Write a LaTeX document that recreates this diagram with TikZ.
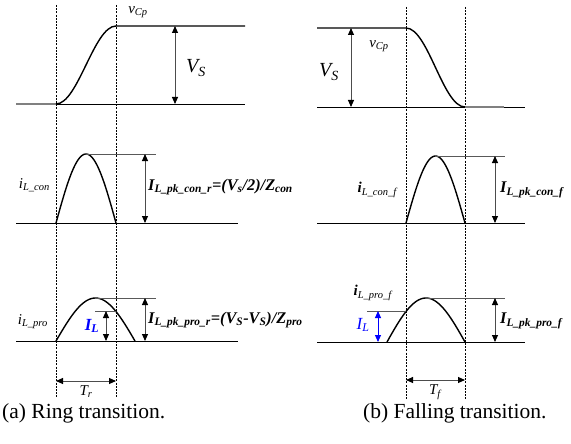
\documentclass[tikz,border=0pt]{standalone}
\usepackage{fontspec}
\setmainfont{Liberation Serif}
\usetikzlibrary{arrows.meta}
\begin{document}
\begin{tikzpicture}[x=1pt,y=-1pt,
  wave/.style={line width=1.4pt, black},
  baseln/.style={line width=0.9pt, black},
  flatseg/.style={line width=2pt, gray},
  refl/.style={line width=0.9pt, gray!70!black},
  vdot/.style={line width=1pt, black, dash pattern=on 2pt off 1.2pt},
  dimarr/.style={line width=0.9pt, gray!60!black,
     {Triangle[length=7pt,width=6pt,black]}-{Triangle[length=7pt,width=6pt,black]}},
  bluearr/.style={line width=0.9pt, blue,
     {Triangle[length=7pt,width=6pt,blue]}-{Triangle[length=7pt,width=6pt,blue]}},
  lbl/.style={inner sep=0pt, font=\fontsize{15}{15}\selectfont\itshape},
  biglbl/.style={inner sep=0pt, font=\fontsize{16.3}{17}\selectfont\bfseries\itshape},
  caplbl/.style={inner sep=0pt, font=\fontsize{21.5}{22}\selectfont}
]
\useasboundingbox (0,0) rectangle (571,444);

% ---------- left column (a) ----------
\coordinate (la1) at (56,5);  \coordinate (la2) at (56,398);
\coordinate (lb1) at (116,5); \coordinate (lb2) at (116,398);
\draw[vdot] (la1) -- (la2);
\draw[vdot] (lb1) -- (lb2);

% top: v_Cp rising
\draw[baseln] (16,104) -- (245,104);
\draw[flatseg] (16,104) -- (56,104);
\draw[wave] (56,104) .. controls (78,104) and (94,26) .. (116,26) -- (245,26);
\coordinate (vsa1) at (175,26); \coordinate (vsa2) at (175,104);
\draw[dimarr] (vsa1) -- (vsa2);
\node[lbl] (vcpa) at (138,12) {v\textsubscript{Cp}};
\node[inner sep=0pt, font=\fontsize{20}{20}\selectfont\itshape] (vsa) at (196,68) {V\textsubscript{S}};

% middle: i_L_con
\draw[baseln] (16,223) -- (238,223);
\draw[wave] plot[domain=0:180,samples=50] ({56+60*\x/180},{223-69*sin(\x)});
\draw[refl] (86,154) -- (156,154);
\coordinate (ica1) at (145,154); \coordinate (ica2) at (145,223);
\draw[dimarr] (ica1) -- (ica2);
\node[lbl, anchor=east] (ilcon) at (50,185) {i\textsubscript{L\_con}};
\node[biglbl, anchor=west] (ipkcon) at (148,187) {I\textsubscript{L\_pk\_con\_r}=(V\textsubscript{s}/2)/Z\textsubscript{con}};

% bottom: i_L_pro
\draw[baseln] (16,341) -- (238,341);
\draw[wave] plot[domain=0:180,samples=50] ({56+79*\x/180},{341-43*sin(\x)});
\draw[refl] (96,298) -- (156,298);
\draw[refl] (95,311) -- (116,311);
\coordinate (ila1) at (106,311); \coordinate (ila2) at (106,341);
\draw[dimarr] (ila1) -- (ila2);
\coordinate (ipa1) at (145,298); \coordinate (ipa2) at (145,341);
\draw[dimarr] (ipa1) -- (ipa2);
\node[lbl, anchor=east] (ilpro) at (48,322) {i\textsubscript{L\_pro}};
\node[inner sep=0pt, font=\fontsize{17}{17}\selectfont\bfseries\itshape, text=blue] (ila) at (92,326) {I\textsubscript{L}};
\node[biglbl, anchor=west] (ipkpro) at (148,320) {I\textsubscript{L\_pk\_pro\_r}=(V\textsubscript{S}-V\textsubscript{S})/Z\textsubscript{pro}};

% T_r
\coordinate (tr1) at (56,381); \coordinate (tr2) at (116,381);
\draw[dimarr] (tr1) -- (tr2);
\node[lbl] (trl) at (86,392) {T\textsubscript{r}};

\node[caplbl, anchor=west] (capa) at (2,413) {(a) Ring transition.};

% ---------- right column (b) ----------
\coordinate (ra1) at (406,7);  \coordinate (ra2) at (406,400);
\coordinate (rb1) at (465,7);  \coordinate (rb2) at (465,400);
\draw[vdot] (ra1) -- (ra2);
\draw[vdot] (rb1) -- (rb2);

% top: v_Cp falling
\draw[baseln] (317,107) -- (525,107);
\draw[flatseg] (465,107) -- (504,107);
\draw[wave] (317,28) -- (406,28) .. controls (428,28) and (443,107) .. (465,107);
\coordinate (vsb1) at (351,28); \coordinate (vsb2) at (351,107);
\draw[dimarr] (vsb1) -- (vsb2);
\node[lbl] (vcpb) at (379,46) {v\textsubscript{Cp}};
\node[inner sep=0pt, font=\fontsize{20}{20}\selectfont\itshape] (vsb) at (329,72) {V\textsubscript{S}};

% middle
\draw[baseln] (317,223) -- (525,223);
\draw[wave] plot[domain=0:180,samples=50] ({406+59*\x/180},{223-67*sin(\x)});
\draw[refl] (435.5,156) -- (505,156);
\coordinate (icb1) at (495,156); \coordinate (icb2) at (495,223);
\draw[dimarr] (icb1) -- (icb2);
\node[lbl, anchor=east] (ilconf) at (397,190) {\textbf{i}\textsubscript{L\_con\_f}};
\node[biglbl, anchor=west] (ipkconf) at (500,190) {I\textsubscript{L\_pk\_con\_f}};

% bottom
\draw[baseln] (317,342) -- (525,342);
\draw[wave] plot[domain=0:180,samples=50] ({387+78*\x/180},{342-44*sin(\x)});
\draw[refl] (426,298) -- (505,298);
\draw[refl] (367,311) -- (406,311);
\coordinate (ilb1) at (378,311); \coordinate (ilb2) at (378,342);
\draw[bluearr] (ilb1) -- (ilb2);
\coordinate (ipb1) at (495,298); \coordinate (ipb2) at (495,342);
\draw[dimarr] (ipb1) -- (ipb2);
\node[lbl, anchor=east] (ilprof) at (392,293) {\textbf{i}\textsubscript{L\_pro\_f}};
\node[inner sep=0pt, font=\fontsize{17}{17}\selectfont\itshape, text=blue] (ilb) at (363,325) {I\textsubscript{L}};
\node[biglbl, anchor=west] (ipkprof) at (500,321) {I\textsubscript{L\_pk\_pro\_f}};

% T_f
\coordinate (tf1) at (406,380); \coordinate (tf2) at (465,380);
\draw[dimarr] (tf1) -- (tf2);
\node[lbl] (tfl) at (435,392) {T\textsubscript{f}};

\node[caplbl, anchor=west] (capb) at (363,413) {(b) Falling transition.};
\end{tikzpicture}
\end{document}
